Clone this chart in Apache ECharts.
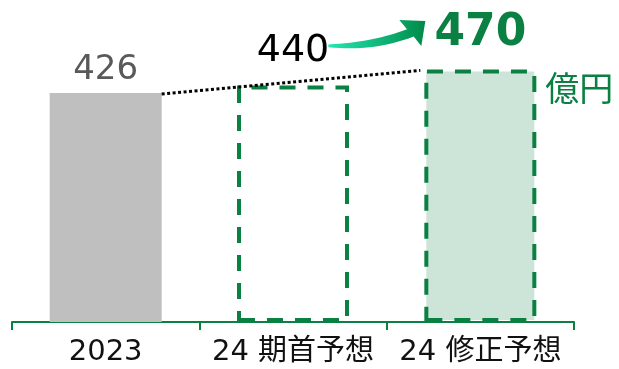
<!DOCTYPE html>
<html><head><meta charset="utf-8">
<script src="https://cdn.jsdelivr.net/npm/echarts@6/dist/echarts.min.js"></script>
<style>html,body{margin:0;padding:0;background:#fff}#c{width:619px;height:369px}</style>
</head><body><div id="c"></div>
<script>
const categories = ['2023', '24 期首予想', '24 修正予想'];
const values = [426, 440, 470];
const unitLabel = '億円';

const FONT = 'DejaVu Sans, "Noto Sans CJK JP", sans-serif';
const GREEN = '#0b8043';
const BAR_W = 112;

const chart = echarts.init(document.getElementById('c'));
const option = {
  animation: false,
  grid: { left: 12, right: 45, top: 21, bottom: 47 },
  xAxis: {
    type: 'category', data: categories,
    axisLine: { lineStyle: { color: GREEN, width: 2 } },
    axisTick: { show: true, interval: 0, length: 8, lineStyle: { color: GREEN, width: 2 } },
    axisLabel: { interval: 0, fontSize: 29, color: '#111', margin: 16, fontFamily: FONT }
  },
  yAxis: { type: 'value', min: 0, max: 560, show: false },
  series: [{
    type: 'bar', barWidth: BAR_W,
    data: [
      { value: values[0], itemStyle: { color: '#bfbfbf' },
        label: { show: true, position: 'top', distance: 6, fontSize: 34, color: '#595959', fontFamily: FONT } },
      { value: values[1], itemStyle: { color: 'rgba(255,255,255,0)', borderColor: GREEN, borderWidth: 4, borderType: [16, 12] },
        label: { show: true, position: 'top', distance: 15, fontSize: 38, color: '#000', fontFamily: FONT } },
      { value: values[2], itemStyle: { color: '#cce5d8', borderColor: GREEN, borderWidth: 4, borderType: [16, 12] },
        label: { show: true, position: 'top', distance: 14, fontSize: 44, fontWeight: 'bold', color: GREEN, fontFamily: FONT } }
    ]
  }]
};
chart.setOption(option);

const p1 = chart.convertToPixel({ seriesIndex: 0 }, [0, values[0]]);
const p3 = chart.convertToPixel({ seriesIndex: 0 }, [2, values[2]]);
const half = BAR_W / 2;
const ax = p3[0] - half - 96, ay = p3[1] - 24;

// decorative arrow outline (local coords), quadratic edges sampled into a polygon
function quad(a, c, b, n) {
  const pts = [];
  for (let i = 0; i <= n; i++) {
    const t = i / n, u = 1 - t;
    pts.push([u*u*a[0] + 2*u*t*c[0] + t*t*b[0], u*u*a[1] + 2*u*t*c[1] + t*t*b[1]]);
  }
  return pts;
}
const arrowPts = [].concat(
  quad([0, -1], [45, -3], [78.7, -16.2], 16),
  [[71, -25.5], [97, -24.5], [93, 0.5]],
  quad([85.3, -8.8], [45, 6.5], [0, 1.8], 16)
);

chart.setOption({
  graphic: [
    { type: 'line', z: 100,
      shape: { x1: p1[0] + half, y1: p1[1] + 1, x2: p3[0] - half - 4, y2: p3[1] + 1 },
      style: { stroke: '#000', lineWidth: 3, lineDash: [3, 2.5] } },
    { type: 'polygon', z: 100, x: ax, y: ay,
      shape: { points: arrowPts },
      style: { fill: { type: 'linear', x: 0, y: 0, x2: 1, y2: 0, colorStops: [
        { offset: 0, color: '#22e8b2' }, { offset: 1, color: '#008a48' }] } } },
    { type: 'text', z: 100, x: p3[0] + half + 9, y: p3[1] + 19,
      style: { text: unitLabel, fontSize: 34, fill: GREEN, fontFamily: '"Noto Sans CJK JP", sans-serif', verticalAlign: 'middle', align: 'left' } }
  ]
});
</script></body></html>
